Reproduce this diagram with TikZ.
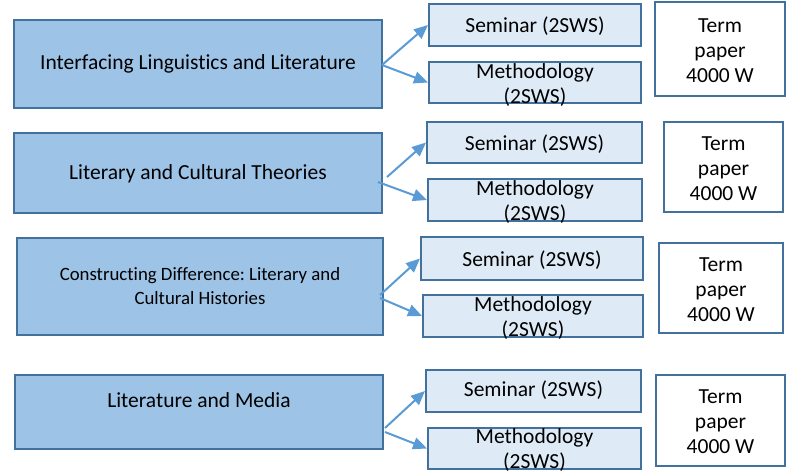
\documentclass[tikz,border=0pt]{standalone}
\usepackage{fontspec}
\setmainfont[Ligatures=NoCommon]{Carlito}
\usetikzlibrary{arrows.meta}
\definecolor{bigfill}{HTML}{9DC3E6}
\definecolor{boxline}{HTML}{41719C}
\definecolor{smallfill}{HTML}{DEEBF7}
\definecolor{arrowc}{HTML}{5B9BD5}
\frenchspacing
\begin{document}
\begin{tikzpicture}[x=1pt,y=-1pt,
  bigbox/.style={draw=boxline,fill=bigfill,line width=2pt,inner sep=0pt,font=\fontsize{21.5}{25}\selectfont,align=center},
  smallbox/.style={draw=boxline,fill=smallfill,line width=2pt,inner sep=0pt,font=\fontsize{21.5}{25}\selectfont,align=center},
  termbox/.style={draw=boxline,fill=white,line width=2pt,inner sep=0pt,font=\fontsize{21.5}{25}\selectfont,align=center},
  txt/.style={inner sep=0pt,font=\fontsize{21.5}{25}\selectfont,align=center},
  arr/.style={draw=arrowc,line width=2pt,-{Triangle[length=14pt,width=12pt]}}]
\useasboundingbox (0,0) rectangle (786,472);
% Row 1
\node[bigbox,minimum width=368pt,minimum height=88pt] (a1) at (198,64) {Interfacing Linguistics and Literature};
\node[smallbox,minimum width=212pt,minimum height=42pt] (s1) at (535,25) {};
\node[txt] (s1t) at (535,26.5) {Seminar (2SWS)};
\node[smallbox,minimum width=212pt,minimum height=41pt] (m1) at (535,82.5) {};
\node[txt] (m1t) at (535,85) {Methodology\\(2SWS)};
\node[termbox,minimum width=130pt,minimum height=94pt] (t1) at (720,49) {};
\node[txt] (t1t) at (720,50.5) {Term\\paper\\4000 W};
% Row 2
\node[bigbox,minimum width=368pt,minimum height=80pt] (a2) at (198,173) {};
\node[txt] (a2t) at (198,174) {Literary and Cultural Theories};
\node[smallbox,minimum width=215pt,minimum height=41pt] (s2) at (534.5,142.5) {};
\node[txt] (s2t) at (534.5,144) {Seminar (2SWS)};
\node[smallbox,minimum width=214pt,minimum height=42pt] (m2) at (535,200) {};
\node[txt] (m2t) at (535,202) {Methodology\\(2SWS)};
\node[termbox,minimum width=119pt,minimum height=90pt] (t2) at (723.5,167) {};
\node[txt] (t2t) at (723.5,168.5) {Term\\paper\\4000 W};
% Row 3
\node[bigbox,minimum width=366pt,minimum height=97pt,font=\fontsize{18.8}{24}\selectfont] (a3) at (200,286.5) {Constructing Difference: Literary and\\Cultural Histories};
\node[smallbox,minimum width=222pt,minimum height=43pt] (s3) at (532,258.5) {};
\node[txt] (s3t) at (532,260) {Seminar (2SWS)};
\node[smallbox,minimum width=220pt,minimum height=42pt] (m3) at (533,316) {};
\node[txt] (m3t) at (533,318) {Methodology\\(2SWS)};
\node[termbox,minimum width=124pt,minimum height=90pt] (t3) at (721,288) {};
\node[txt] (t3t) at (721,289.5) {Term\\paper\\4000 W};
% Row 4
\node[bigbox,minimum width=368pt,minimum height=74pt] (a4) at (199,412) {};
\node[txt] (a4t) at (199,400) {Literature and Media};
\node[smallbox,minimum width=215pt,minimum height=42pt] (s4) at (533.5,391) {};
\node[txt] (s4t) at (533.5,390.5) {Seminar (2SWS)};
\node[smallbox,minimum width=213pt,minimum height=41pt] (m4) at (534.5,448.5) {};
\node[txt] (m4t) at (534.5,450.5) {Methodology\\(2SWS)};
\node[termbox,minimum width=129pt,minimum height=91pt] (t4) at (720.5,420.5) {};
\node[txt] (t4t) at (720.5,422) {Term\\paper\\4000 W};
% Arrow origins
\coordinate (o1) at (382,65);
\coordinate (o2u) at (387,177);
\coordinate (o2l) at (378,182);
\coordinate (o3u) at (380,295);
\coordinate (o3l) at (380,298);
\coordinate (o4u) at (385,428);
\coordinate (o4l) at (385,432);
% Arrows
\draw[arr] (o1) -- (s1.west);
\draw[arr] (o1) -- (m1.west);
\draw[arr] (o2u) -- (s2.west);
\draw[arr] (o2l) -- (m2.west);
\draw[arr] (o3u) -- (s3.west);
\draw[arr] (o3l) -- (m3.west);
\draw[arr] (o4u) -- (s4.west);
\draw[arr] (o4l) -- (m4.west);
\end{tikzpicture}
\end{document}
